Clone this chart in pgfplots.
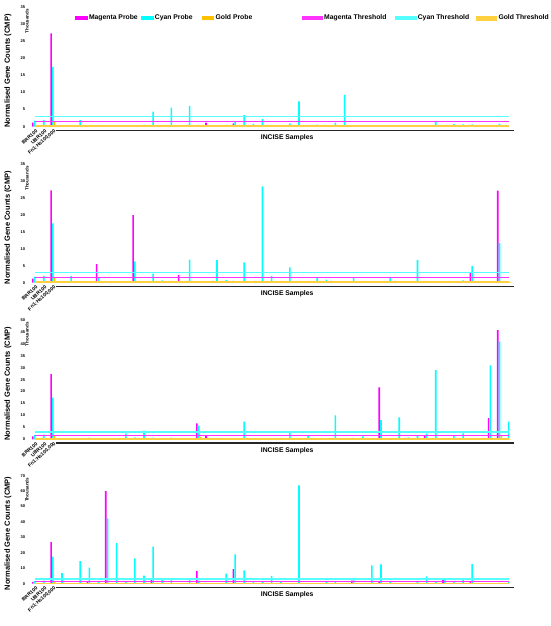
\documentclass[border=0pt]{standalone}
\usepackage{fontspec}
\setmainfont{Liberation Sans}
\usepackage{pgfplots}
\usepackage{pgfplotstable}
\pgfplotsset{compat=1.18}

\definecolor{mag}{HTML}{FF00FF}
\definecolor{cya}{HTML}{00FFFF}
\definecolor{gld}{HTML}{FFC000}
\definecolor{magT}{HTML}{FF33FF}
\definecolor{cyaT}{HTML}{55FFFF}
\definecolor{gldT}{HTML}{FFD040}

% x = sample index, m = magenta probe, c = cyan probe, g = gold probe (thousands)
\pgfplotstableread{
x m c g
0 1.2 1.8 0.3
1 0.4 2.0 0.3
2 27.3 17.5 1.5
5 0 1.9 0.1
6 0 0.3 0.2
7 0 0.5 0.1
10 0 0.2 0.2
12 0 0.5 0.1
13 0 4.4 0.1
14 0 0.2 0.2
15 0 5.6 0.1
17 0.5 6.1 0.1
19 1.2 0.4 0.1
21 0 0.2 0.2
22 1.0 1.6 0.1
23 0 3.4 0.1
24 0 0.8 0.1
25 0 2.2 0.1
28 0 1.0 0.1
29 0 7.4 0.1
31 0 0.6 0.1
32 0 0.2 0.2
33 0 1.2 0.1
34 0 9.3 0.1
42 0 0.2 0.2
44 0.3 1.4 0.1
45 0 0.2 0.2
46 0 0.8 0.1
47 0 0.7 0.1
48 0 0.7 0.1
50 0 0.2 0.2
51 0 0.8 0.1
}\tA

\pgfplotstableread{
x m c g
0 1.2 1.8 0.3
1 0.4 2.0 0.3
2 27.3 17.5 1.5
4 0 2.0 0.1
5 0 0.3 0.2
6 0 0.4 0.2
7 5.5 1.5 0.1
11 20.0 6.3 0.1
12 0 0.5 0.1
13 0 2.7 0.1
14 0 0.7 0.1
16 2.3 0.5 0.1
17 0 6.8 0.1
18 0 0.3 0.2
20 0 6.7 0.1
21 0 0.8 0.1
23 0.3 6.0 0.1
24 0 0.3 0.2
25 0 28.5 0.1
26 0 2.0 0.1
28 0 4.5 0.1
30 0 0.2 0.2
31 0 1.5 0.1
32 0 0.9 0.1
33 0 0.2 0.2
34 0 0.2 0.2
35 0 1.5 0.1
37 0 0.2 0.2
38 0 0.2 0.2
39 0 1.5 0.1
40 0 0.2 0.2
42 0 6.7 0.1
45 0 0.2 0.2
46 0 0.2 0.2
47 0 0.7 0.1
48 2.8 4.9 0.1
51 27.2 11.8 0.3
52 0 0.3 0.2
}\tB

\pgfplotstableread{
x m c g
0 1.2 1.8 0.3
1 0.4 2.0 0.3
2 27.3 17.5 1.5
3 0 0.2 0.2
5 0 0.2 0.2
6 0 0.7 0.1
10 0 2.5 0.1
11 0 0.8 0.1
12 0 3.6 0.1
13 0 0.7 0.1
14 0 0.2 0.2
15 0 0.7 0.1
18 6.7 5.7 1.0
19 1.4 0.7 0.1
20 0 0.2 0.2
21 0 0.2 0.2
22 0 0.2 0.2
23 0 7.4 0.1
27 0 0.6 0.1
28 0 3.0 0.1
29 0 0.2 0.2
30 0 1.3 0.1
31 0 0.5 0.1
33 0 10.0 0.1
35 0 0.2 0.2
36 0 1.2 0.1
37 0 0.3 0.2
38 21.8 8.0 0.1
39 0 0.3 0.2
40 0 9.2 0.1
41 0 0.8 0.1
42 0 1.8 0.1
43 1.8 2.5 0.1
44 0 29.0 0.1
46 0 1.5 0.1
47 0 2.5 0.1
48 0 0.2 0.2
49 0 0.2 0.2
50 8.9 31.0 0.1
51 45.8 41.0 1.5
52 0 7.4 0.1
}\tC

\pgfplotstableread{
x m c g
0 1.2 1.8 0.3
1 0.4 2.0 0.3
2 27.0 17.5 1.5
3 0 6.9 0.1
5 0 14.7 0.1
6 1.2 10.4 0.1
7 0 1.3 0.1
8 60.0 42.3 0.3
9 0 26.3 0.1
10 0 1.3 0.1
11 0 16.4 0.1
12 0 5.2 0.1
13 3.0 24.0 0.1
14 0 2.5 0.1
15 0 2.5 0.1
16 0 0.3 0.2
17 0 3.2 0.1
18 8.2 2.0 0.1
19 0 0.3 0.2
21 0 6.5 0.1
22 9.5 19.0 0.1
23 0 8.6 0.1
24 0 1.3 0.1
25 0 1.3 0.1
26 0 5.0 0.1
27 0 1.0 0.1
29 0 63.7 0.1
30 0 0.3 0.2
31 0 0.3 0.2
32 0 1.3 0.1
33 0 1.3 0.1
35 2.0 2.8 0.1
36 0 0.3 0.2
37 0 11.9 0.1
38 1.0 12.5 0.1
39 0 1.3 0.1
40 0 0.3 0.2
42 0 1.5 0.1
43 0 4.7 0.1
44 0 1.3 0.1
45 2.5 3.0 0.1
46 0 1.5 0.1
47 0 2.8 0.1
48 1.2 12.7 0.1
49 0 0.3 0.2
50 0 0.3 0.2
51 0 0.3 0.2
52 0 1.0 0.1
}\tD

\pgfplotsset{
  panel/.style={
    scale only axis, width=484.9pt, anchor=south west,
    xmin=-0.5, xmax=52.7, ymin=0, clip=false,
    axis line style={draw=none}, major tick length=0pt, tick style={draw=none},
    xtick={0,1,2}, xticklabels={BRR100,UBR100,{Fn1:Hs100,000}},
    xticklabel style={rotate=42, anchor=east, inner sep=0pt,
      font=\bfseries\fontsize{5}{5.2}\selectfont, xshift=-0.8pt, yshift=-4.3pt},
    yticklabel style={anchor=east, inner sep=0pt, xshift=-4.8pt,
      font=\bfseries\fontsize{4}{4}\selectfont},
    /pgf/number format/assume math mode=true, scaled y ticks=false,
  },
  barM/.style={ybar, bar width=1.6pt, bar shift=-1.8pt, fill=mag, draw=none,
    legend image code/.code={\fill[mag] (0pt,-2.2pt) rectangle (12.5pt,2.2pt);}},
  barC/.style={ybar, bar width=1.6pt, bar shift=0pt, fill=cya, draw=none,
    legend image code/.code={\fill[cya] (0pt,-2.2pt) rectangle (12.5pt,2.2pt);}},
  barG/.style={ybar, bar width=1.6pt, bar shift=1.8pt, fill=gld, draw=none,
    legend image code/.code={\fill[gld] (0pt,-2.2pt) rectangle (12.5pt,2.2pt);}},
  thrM/.style={sharp plot, no marks, line width=1.3pt, color=magT,
    legend image code/.code={\fill[magT] (0pt,-1.8pt) rectangle (20pt,1.8pt);}},
  thrC/.style={sharp plot, no marks, line width=1.3pt, color=cyaT,
    legend image code/.code={\fill[cyaT] (0pt,-1.8pt) rectangle (20pt,1.8pt);}},
  thrG/.style={sharp plot, no marks, line width=1.4pt, color=gldT,
    legend image code/.code={\fill[gldT] (0pt,-1.8pt) rectangle (20pt,1.8pt);}},
}

\newcommand{\panelplots}[1]{%
  \addplot[barM] table[x=x,y=m] {#1};
  \addplot[barC] table[x=x,y=c] {#1};
  \addplot[barG] table[x=x,y=g] {#1};
  \addplot[thrM] coordinates {(0,1.5) (52,1.5)};
  \addplot[thrC] coordinates {(0,3.0) (52,3.0)};
  \addplot[thrG] coordinates {(0,0.2) (52,0.2)};
  \draw[line width=1.5pt, black!85] ([yshift=-3.7pt]axis cs:2.3,0) -- ([yshift=-3.7pt]axis cs:52.6,0);
  \node[font=\bfseries\fontsize{6.8}{7}\selectfont, inner sep=0pt] at ([yshift=-11pt]axis cs:27.7,0) {INCISE Samples};
  \node[rotate=90, font=\bfseries\fontsize{7.5}{8}\selectfont, inner sep=0pt] at (rel axis cs:-0.0456,0.465) {Normalised Gene Counts (CMP)};
  \node[rotate=90, anchor=east, font=\bfseries\fontsize{4.5}{5}\selectfont, inner sep=0pt] at ([yshift=-2pt]rel axis cs:-0.0064,1) {Thousands};
}

\begin{document}
\begin{tikzpicture}
\useasboundingbox (0,0) rectangle (550pt,626pt);

\begin{axis}[panel, at={(30.1pt,499.3pt)}, height=119.7pt, ymax=35, ytick={0,5,...,35},
  legend columns=6, legend cell align=left,
  legend style={at={(0.0926,0.908)}, anchor=west, draw=none, fill=none, inner sep=0pt,
    font=\bfseries\fontsize{6.8}{7}\selectfont, nodes={inner sep=0pt},
    /tikz/every odd column/.append style={column sep=1.3pt},
    /tikz/column 2/.style={column sep=3.3pt},
    /tikz/column 4/.style={column sep=9.2pt},
    /tikz/column 6/.style={column sep=49.3pt},
    /tikz/column 8/.style={column sep=8.7pt},
    /tikz/column 10/.style={column sep=6.6pt}}]
\panelplots{\tA}
\legend{Magenta Probe, Cyan Probe, Gold Probe, Magenta Threshold, Cyan Threshold, Gold Threshold}
\end{axis}

\begin{axis}[panel, at={(30.1pt,343.3pt)}, height=118.4pt, ymax=35, ytick={0,5,...,35}]
\panelplots{\tB}
\end{axis}

\begin{axis}[panel, at={(30.1pt,186.7pt)}, height=119.3pt, ymax=50, ytick={0,5,...,50}]
\panelplots{\tC}
\end{axis}

\begin{axis}[panel, at={(30.1pt,42.3pt)}, height=108pt, ymax=70, ytick={0,10,...,70}]
\panelplots{\tD}
\end{axis}
\end{tikzpicture}
\end{document}
